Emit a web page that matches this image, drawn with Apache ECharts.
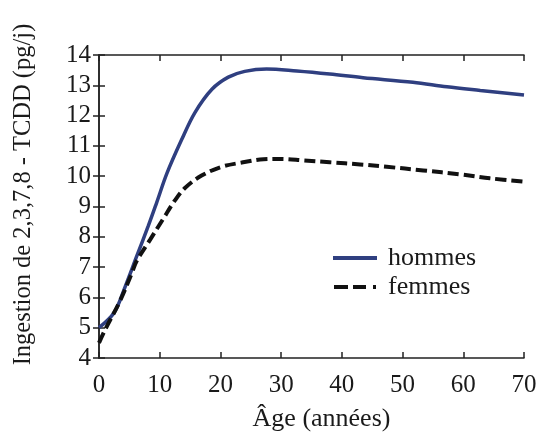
<!DOCTYPE html>
<html>
<head>
<meta charset="utf-8">
<script src="https://cdn.jsdelivr.net/npm/echarts@6/dist/echarts.min.js"></script>
<style>
html,body{margin:0;padding:0;background:#fff;}
#chart{width:539px;height:436px;}
</style>
</head>
<body>
<div id="chart"></div>
<script>
// Data
var seriesNames = ['hommes', 'femmes'];
var hommesData = [[0,5.0],[2.5,5.5],[4.3,6.35],[6.2,7.35],[8.1,8.35],[9.5,9.13],[11.2,10.1],[13.6,11.2],[15.8,12.1],[18.6,12.87],[21.3,13.27],[24,13.46],[27.6,13.54],[32.6,13.47],[38,13.37],[43.5,13.25],[51.7,13.1],[57.3,12.95],[62.8,12.83],[70,12.68]];
var femmesData = [[0,4.5],[1,4.93],[3.5,5.9],[5.4,6.8],[6.2,7.2],[8.4,7.9],[10.6,8.6],[12.5,9.2],[14.2,9.62],[16.9,10.02],[20.2,10.31],[23.5,10.45],[27.1,10.56],[30,10.57],[33.7,10.52],[38,10.46],[43,10.39],[47.4,10.31],[53.4,10.19],[59.5,10.06],[64.4,9.93],[70,9.82]];
var xTickLabels = [0,10,20,30,40,50,60,70];
var yTickLabels = [4,5,6,7,8,9,10,11,12,13,14];
var xAxisTitle = 'Âge (années)';
var yAxisTitle = 'Ingestion de 2,3,7,8 - TCDD (pg/j)';

var FONT = 'Liberation Serif';
var INK = '#1a1a1a';
var BLUE = '#2f3f80';
var axisLine = {show:true, lineStyle:{color:'#222', width:1.5}};
var tick = {show:true, inside:true, length:6, lineStyle:{color:'#222', width:1.5}};
var solidIcon = 'path://M0,0 H44 V4 H0 Z';
var dashIcon = 'path://M0,0 H14 V4 H0 Z M19,0 H32 V4 H19 Z M39,0 H42 V4 H39 Z';

var chart = echarts.init(document.getElementById('chart'), null, {renderer:'canvas'});
chart.setOption({
  backgroundColor:'#fff',
  animation:false,
  grid:{left:99, right:15, top:55, bottom:78, containLabel:false, outerBoundsMode:'none'},
  legend:{
    orient:'vertical', left:328, top:240, itemGap:3, itemWidth:44, itemHeight:4,
    textStyle:{fontFamily:FONT, fontSize:26, color:INK, padding:[0,0,0,6]},
    data:[{name:seriesNames[0], icon:solidIcon}, {name:seriesNames[1], icon:dashIcon}]
  },
  xAxis:[{
    type:'value', min:0, max:70, interval:10, position:'bottom',
    axisLine:axisLine, axisTick:tick, splitLine:{show:false},
    axisLabel:{customValues:xTickLabels, margin:15, fontFamily:FONT, fontSize:25, color:INK},
    name:xAxisTitle, nameLocation:'middle', nameGap:48,
    nameTextStyle:{fontFamily:FONT, fontSize:26, color:INK, padding:[0,0,0,20]}
  },{
    type:'value', min:0, max:70, interval:10, position:'top',
    axisLine:axisLine, axisTick:tick, axisLabel:{show:false}, splitLine:{show:false}
  }],
  yAxis:[{
    type:'value', min:4, max:14, interval:1, position:'left',
    axisLine:axisLine, axisTick:tick, splitLine:{show:false},
    axisLabel:{customValues:yTickLabels, margin:8, fontFamily:FONT, fontSize:25, color:INK},
    name:yAxisTitle, nameLocation:'middle', nameGap:63, nameRotate:90,
    nameTextStyle:{fontFamily:FONT, fontSize:24.5, color:INK, padding:[0,0,0,24]}
  },{
    type:'value', min:4, max:14, interval:1, position:'right',
    axisLine:axisLine, axisTick:tick, axisLabel:{show:false}, splitLine:{show:false}
  }],
  series:[{
    name:seriesNames[0], type:'line', data:hommesData, smooth:0.35,
    symbol:'none', lineStyle:{color:BLUE, width:3.5}, itemStyle:{color:BLUE}, z:2
  },{
    name:seriesNames[1], type:'line', data:femmesData, smooth:0.35,
    symbol:'none', lineStyle:{color:'#111', width:4, type:[11,5]}, itemStyle:{color:'#111'}, z:3
  }]
});
</script>
</body>
</html>
